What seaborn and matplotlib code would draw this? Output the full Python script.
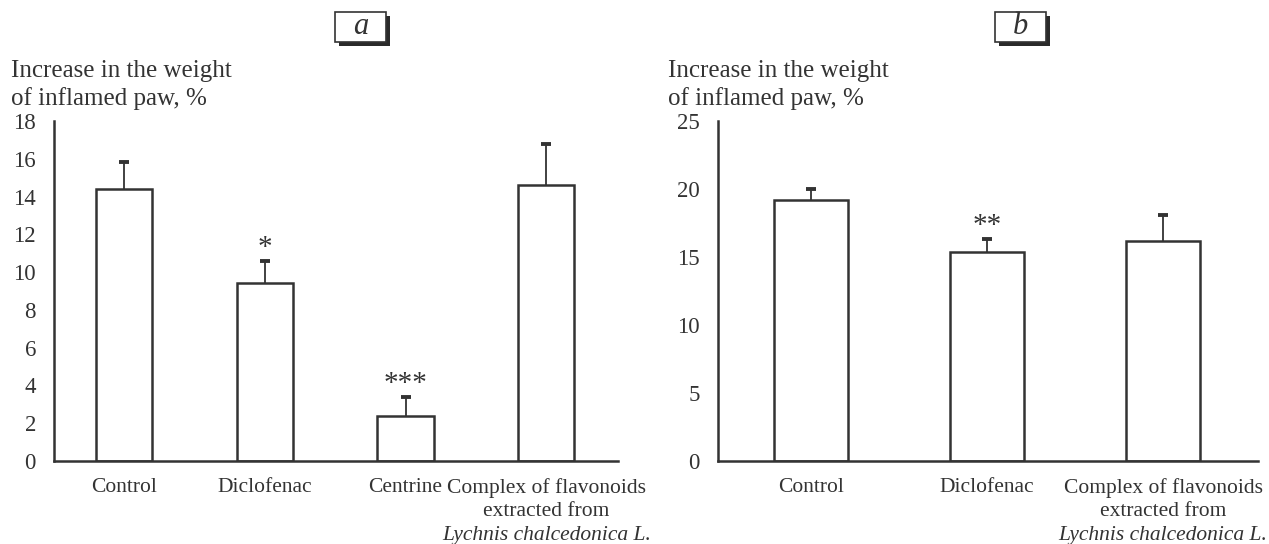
import matplotlib
matplotlib.use("Agg")
import matplotlib.pyplot as plt
from matplotlib.patches import Rectangle
import numpy as np
import pandas as pd
import seaborn as sns

# Panel a data
groups_a = ["Control", "Diclofenac", "Centrine", "Complex"]
ticklabels_a = ["Control", "Diclofenac", "Centrine", "Complex of flavonoids\nextracted from"]
mean_a = [14.4, 9.4, 2.4, 14.6]
sem_a = [1.45, 1.2, 0.97, 2.2]
stars_a = ["", "*", "***", ""]
yticks_a = [0, 2, 4, 6, 8, 10, 12, 14, 16, 18]

# Panel b data
groups_b = ["Control", "Diclofenac", "Complex"]
ticklabels_b = ["Control", "Diclofenac", "Complex of flavonoids\nextracted from"]
mean_b = [19.2, 15.4, 16.2]
sem_b = [0.8, 0.9, 1.9]
stars_b = ["", "**", ""]
yticks_b = [0, 5, 10, 15, 20, 25]

ylabel = "Increase in the weight\nof inflamed paw, %"
species = "Lychnis chalcedonica L."

sns.set_style("white")
plt.rcParams["font.family"] = ["Liberation Serif", "DejaVu Serif"]
ink = "#333333"

fig = plt.figure(figsize=(12.69, 5.44), dpi=100)
W, H = 1269, 544


def draw_panel(rect, groups, ticklabels, means, sems, stars, yticks, xlim, width, species_idx):
    ax = fig.add_axes(rect)
    df = pd.DataFrame({"group": groups, "value": means})
    sns.barplot(data=df, x="group", y="value", ax=ax, color="white", edgecolor=ink,
                linewidth=1.8, width=width, errorbar=None)
    x = np.arange(len(groups))
    tops = np.array(means) + np.array(sems)
    # upper error bars only
    ax.vlines(x, means, tops, color=ink, linewidth=1.3)
    ax.scatter(x, tops, marker="_", s=45, linewidths=2.8, color=ink, zorder=4)
    for xi, t, st in zip(x, tops, stars):
        if st:
            ax.annotate(st, (xi, t), xytext=(0, 0), textcoords="offset points",
                        ha="center", va="bottom", fontsize=21, color=ink)
    ax.set_xlim(*xlim)
    ax.set_ylim(0, yticks[-1])
    ax.set_yticks(yticks)
    ax.set_xticks(x)
    ax.set_xticklabels(ticklabels, fontsize=15.5, linespacing=1.3, color=ink)
    ax.tick_params(axis="x", length=0, pad=12)
    ax.tick_params(axis="y", length=7, width=1.6, color=ink, labelsize=16.5, labelcolor=ink, pad=6)
    ax.set_xlabel("")
    ax.set_ylabel("")
    for side in ["top", "right"]:
        ax.spines[side].set_visible(False)
    for side in ["left", "bottom"]:
        ax.spines[side].set_color(ink)
        ax.spines[side].set_linewidth(1.8)
    ax.annotate(species, (species_idx, 0), xytext=(0, -47), textcoords="offset points",
                xycoords=("data", "axes fraction"), ha="center", va="top",
                fontsize=15.5, style="italic", color=ink, annotation_clip=False)
    return ax


ax_a = draw_panel([54 / W, 1 - 461 / H, 564 / W, 340 / H], groups_a, ticklabels_a,
                  mean_a, sem_a, stars_a, yticks_a, (-0.5, 3.51), 0.4, 3)
ax_b = draw_panel([718 / W, 1 - 461 / H, 540 / W, 340 / H], groups_b, ticklabels_b,
                  mean_b, sem_b, stars_b, yticks_b, (-0.53, 2.54), 0.42, 2)

fig.text(11 / W, 1 - 110 / H, ylabel, fontsize=18, ha="left", va="bottom",
         linespacing=1.3, color=ink)
fig.text(668 / W, 1 - 110 / H, ylabel, fontsize=18, ha="left", va="bottom",
         linespacing=1.3, color=ink)


def panel_tag(x0, letter):
    y0, w, h = 12, 51, 30
    fig.add_artist(Rectangle(((x0 + 4) / W, 1 - (y0 + h + 4) / H), w / W, h / H,
                             transform=fig.transFigure, facecolor="#2a2a2a", edgecolor="none"))
    fig.add_artist(Rectangle((x0 / W, 1 - (y0 + h) / H), w / W, h / H,
                             transform=fig.transFigure, facecolor="white", edgecolor=ink, linewidth=1.2))
    fig.text((x0 + w / 2) / W, 1 - (y0 + h / 2) / H, letter, fontsize=22, style="italic",
             ha="center", va="center", color=ink)


panel_tag(335, "a")
panel_tag(995, "b")

plt.savefig("out.png", dpi=100)
